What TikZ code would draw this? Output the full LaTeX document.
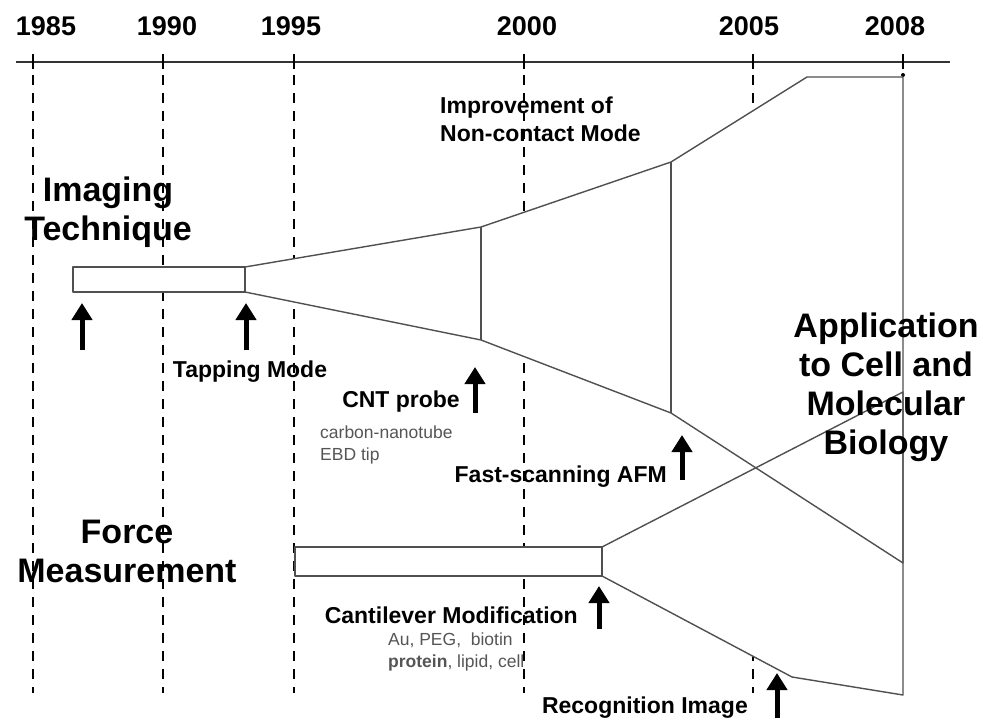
\documentclass[tikz,border=0pt]{standalone}
\usepackage{fontspec}
\setmainfont{Liberation Sans}
\usetikzlibrary{positioning, arrows.meta}
\definecolor{edgegray}{HTML}{505050}
\definecolor{notegray}{HTML}{555555}
\definecolor{axisgray}{HTML}{333333}
\tikzset{
  year/.style={
      font=\fontsize{27}{27}\selectfont\bfseries,
      inner sep=0pt
    },
  big/.style={
      font=\fontsize{34}{39}\selectfont\bfseries,
      align=center,
      inner sep=0pt
    },
  lbl/.style={
      font=\fontsize{23}{28}\selectfont\bfseries,
      align=left,
      inner sep=0pt
    },
  note/.style={
      font=\fontsize{17.5}{22}\selectfont,
      text=notegray,
      align=left,
      inner sep=0pt
    },
  yearline/.style={
      dash pattern=on 10pt off 8pt,
      line width=2.5pt
    },
  band/.style={
      draw=edgegray,
      line width=1.4pt,
      line join=round
    },
  up/.style={
      -{Triangle[width=20pt,length=17pt]},
      line width=5pt
    }
}

\begin{document}
\begin{tikzpicture}[x=1pt, y=-1pt]
  \useasboundingbox (0,0) rectangle (983,722);
  % time axis
  \draw[line width=2.5pt, axisgray] (16,62) -- (950,62);
  \foreach \yr/\px/\lx in {1985/33/46, 1990/163/167, 1995/294/291, 2000/524/527, 2005/753/749, 2008/903/895} {
    \node[year] (y\yr) at (\lx,26) {\yr};
    \draw[line width=2.5pt] (\px,54) -- (\px,69);
  }
  \foreach \px in {33,163,294,524,753}
    \draw[yearline] (\px,75) -- (\px,693);
  \fill (903,75) circle (2pt);

  % imaging branch
  \coordinate (i0) at (73,267);  \coordinate (i1) at (245,267);
  \coordinate (i2) at (481,227); \coordinate (i3) at (671,162);
  \coordinate (i4) at (807,77);  \coordinate (i5) at (903,77);
  \coordinate (i6) at (903,563); \coordinate (i7) at (671,413);
  \coordinate (i8) at (481,340); \coordinate (i9) at (245,292);
  \coordinate (i10) at (73,292);
  % force branch
  \coordinate (f0) at (295,547); \coordinate (f1) at (602,547);
  \coordinate (f2) at (903,392); \coordinate (f3) at (903,695);
  \coordinate (f4) at (792,677); \coordinate (f5) at (602,576);
  \coordinate (f6) at (295,576);

  \fill[white] (i0) -- (i1) -- (i2) -- (i3) -- (i4) -- (i5) -- (i6) -- (i7) -- (i8) -- (i9) -- (i10) -- cycle;
  \fill[white] (f0) -- (f1) -- (f2) -- (f3) -- (f4) -- (f5) -- (f6) -- cycle;
  \draw[band] (i0) rectangle (i9);
  \draw[band] (i1) -- (i2) -- (i3) -- (i4) -- (i5) -- (i6) -- (i7) -- (i8) -- (i9);
  \draw[band] (i2) -- (i8) (i3) -- (i7);
  \draw[band] (f0) rectangle (f5);
  \draw[band] (f1) -- (f2) -- (f3) -- (f4) -- (f5);

  % headings
  \node[big] (img) at (108,212) {Imaging\\Technique};
  \node[big] (frc) at (127,551) {Force\\Measurement};
  \node[big] (app) at (886,387) {Application\\to Cell and\\Molecular\\Biology};

  % events
  \node[lbl, anchor=west] (ncm) at (440,119) {Improvement of\\Non-contact Mode};
  \node[lbl] (tap) at (250,372) {Tapping Mode};
  \node[lbl, anchor=east] (cnt) at (460,402) {CNT probe};
  \node[note, anchor=west] (cntn) at (320,445) {carbon-nanotube\\EBD tip};
  \node[lbl, anchor=east] (fast) at (667,477) {Fast-scanning AFM};
  \node[lbl, anchor=east] (cant) at (578,615) {Cantilever Modification};
  \node[note, anchor=west] (cantn) at (388,652) {Au, PEG,\ \ biotin\\\textbf{protein}, lipid, cell};
  \node[lbl, anchor=east] (rec) at (748,708) {Recognition Image};

  % arrows
  \coordinate (a1s) at (82,350);  \coordinate (a1e) at (82,303);
  \coordinate (a2s) at (246,350); \coordinate (a2e) at (246,303);
  \coordinate (a3s) at (475,413); \coordinate (a3e) at (475,367);
  \coordinate (a4s) at (682,480); \coordinate (a4e) at (682,435);
  \coordinate (a5s) at (599,629); \coordinate (a5e) at (599,586);
  \coordinate (a6s) at (777,718); \coordinate (a6e) at (777,673);
  \foreach \k in {1,...,6}
    \draw[up] (a\k s) -- (a\k e);
\end{tikzpicture}
\end{document}
